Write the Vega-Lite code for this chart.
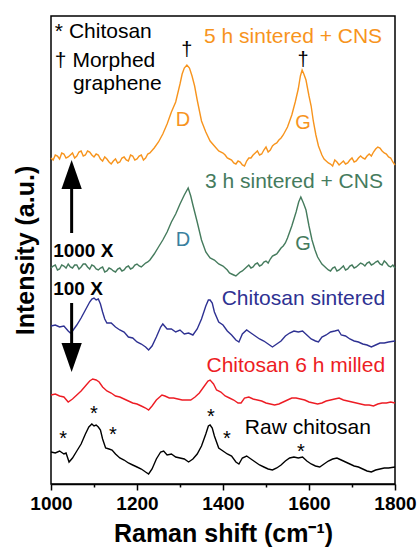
{
"$schema":"https://vega.github.io/schema/vega-lite/v6.json",
"width":344,"height":468,
"autosize":{"type":"none"},
"padding":{"left":51,"top":16,"right":22,"bottom":65},
"config":{"font":"Liberation Sans","view":{"stroke":"#000","strokeWidth":1.5},"axis":{"grid":false}},
"datasets":{
"spectra":[
{"s":"o","x":1000,"y":326},{"s":"o","x":1010,"y":329},{"s":"o","x":1020,"y":325},{"s":"o","x":1030,"y":330},{"s":"o","x":1040,"y":327},{"s":"o","x":1050,"y":331},{"s":"o","x":1060,"y":328},{"s":"o","x":1070,"y":333},{"s":"o","x":1080,"y":329},{"s":"o","x":1090,"y":332},{"s":"o","x":1100,"y":327},{"s":"o","x":1110,"y":329},{"s":"o","x":1120,"y":323},{"s":"o","x":1130,"y":325},{"s":"o","x":1140,"y":320},{"s":"o","x":1150,"y":325},{"s":"o","x":1160,"y":322},{"s":"o","x":1170,"y":327},{"s":"o","x":1180,"y":323},{"s":"o","x":1190,"y":328},{"s":"o","x":1200,"y":325},{"s":"o","x":1210,"y":329},{"s":"o","x":1220,"y":326},{"s":"o","x":1230,"y":331},{"s":"o","x":1240,"y":336},{"s":"o","x":1250,"y":342},{"s":"o","x":1260,"y":350},{"s":"o","x":1270,"y":360},{"s":"o","x":1280,"y":372},{"s":"o","x":1290,"y":382},{"s":"o","x":1300,"y":400},{"s":"o","x":1305,"y":410},{"s":"o","x":1310,"y":416},{"s":"o","x":1316,"y":419},{"s":"o","x":1322,"y":416},{"s":"o","x":1328,"y":408},{"s":"o","x":1334,"y":398},{"s":"o","x":1340,"y":384},{"s":"o","x":1350,"y":363},{"s":"o","x":1360,"y":352},{"s":"o","x":1370,"y":343},{"s":"o","x":1380,"y":338},{"s":"o","x":1390,"y":333},{"s":"o","x":1400,"y":331},{"s":"o","x":1410,"y":326},{"s":"o","x":1420,"y":324},{"s":"o","x":1430,"y":320},{"s":"o","x":1440,"y":322},{"s":"o","x":1450,"y":318},{"s":"o","x":1460,"y":326},{"s":"o","x":1470,"y":329},{"s":"o","x":1480,"y":333},{"s":"o","x":1490,"y":330},{"s":"o","x":1500,"y":337},{"s":"o","x":1510,"y":334},{"s":"o","x":1520,"y":340},{"s":"o","x":1530,"y":344},{"s":"o","x":1540,"y":349},{"s":"o","x":1550,"y":357},{"s":"o","x":1560,"y":369},{"s":"o","x":1568,"y":382},{"s":"o","x":1575,"y":395},{"s":"o","x":1580,"y":408},{"s":"o","x":1584,"y":414},{"s":"o","x":1588,"y":410},{"s":"o","x":1593,"y":404},{"s":"o","x":1600,"y":388},{"s":"o","x":1605,"y":378},{"s":"o","x":1610,"y":363},{"s":"o","x":1616,"y":349},{"s":"o","x":1622,"y":338},{"s":"o","x":1630,"y":329},{"s":"o","x":1640,"y":323},{"s":"o","x":1650,"y":320},{"s":"o","x":1660,"y":324},{"s":"o","x":1670,"y":319},{"s":"o","x":1680,"y":323},{"s":"o","x":1690,"y":321},{"s":"o","x":1700,"y":326},{"s":"o","x":1710,"y":323},{"s":"o","x":1720,"y":328},{"s":"o","x":1730,"y":325},{"s":"o","x":1740,"y":330},{"s":"o","x":1750,"y":332},{"s":"o","x":1760,"y":337},{"s":"o","x":1765,"y":336},{"s":"o","x":1770,"y":333},{"s":"o","x":1780,"y":330},{"s":"o","x":1790,"y":326},{"s":"o","x":1800,"y":319},
{"s":"o","x":1005,"y":324},{"s":"o","x":1015,"y":328},{"s":"o","x":1025,"y":331},{"s":"o","x":1035,"y":326},{"s":"o","x":1045,"y":329},{"s":"o","x":1055,"y":326},{"s":"o","x":1065,"y":332},{"s":"o","x":1075,"y":328},{"s":"o","x":1085,"y":333},{"s":"o","x":1095,"y":329},{"s":"o","x":1105,"y":330},{"s":"o","x":1115,"y":325},{"s":"o","x":1125,"y":327},{"s":"o","x":1135,"y":322},{"s":"o","x":1145,"y":323},{"s":"o","x":1155,"y":321},{"s":"o","x":1165,"y":326},{"s":"o","x":1175,"y":324},{"s":"o","x":1185,"y":329},{"s":"o","x":1195,"y":324},{"s":"o","x":1205,"y":328},{"s":"o","x":1215,"y":324},{"s":"o","x":1225,"y":330},
{"s":"o","x":1405,"y":329},{"s":"o","x":1415,"y":325},{"s":"o","x":1425,"y":321},{"s":"o","x":1435,"y":323},{"s":"o","x":1445,"y":319},{"s":"o","x":1455,"y":323},{"s":"o","x":1465,"y":326},{"s":"o","x":1475,"y":331},{"s":"o","x":1485,"y":329},{"s":"o","x":1495,"y":334},{"s":"o","x":1505,"y":332},{"s":"o","x":1515,"y":338},{"s":"o","x":1525,"y":341},{"s":"o","x":1535,"y":346},
{"s":"o","x":1635,"y":325},{"s":"o","x":1645,"y":321},{"s":"o","x":1655,"y":318},{"s":"o","x":1665,"y":322},{"s":"o","x":1675,"y":321},{"s":"o","x":1685,"y":320},{"s":"o","x":1695,"y":324},{"s":"o","x":1705,"y":322},{"s":"o","x":1715,"y":326},{"s":"o","x":1725,"y":326},{"s":"o","x":1735,"y":328},{"s":"o","x":1745,"y":328},{"s":"o","x":1755,"y":335},{"s":"o","x":1775,"y":331},{"s":"o","x":1785,"y":327},{"s":"o","x":1795,"y":322},
{"s":"g","x":1000,"y":216},{"s":"g","x":1010,"y":219},{"s":"g","x":1020,"y":215},{"s":"g","x":1030,"y":218},{"s":"g","x":1040,"y":220},{"s":"g","x":1050,"y":216},{"s":"g","x":1060,"y":219},{"s":"g","x":1070,"y":217},{"s":"g","x":1080,"y":220},{"s":"g","x":1090,"y":215},{"s":"g","x":1100,"y":218},{"s":"g","x":1110,"y":214},{"s":"g","x":1120,"y":217},{"s":"g","x":1130,"y":213},{"s":"g","x":1140,"y":215},{"s":"g","x":1150,"y":212},{"s":"g","x":1160,"y":216},{"s":"g","x":1170,"y":214},{"s":"g","x":1180,"y":218},{"s":"g","x":1190,"y":216},{"s":"g","x":1200,"y":220},{"s":"g","x":1210,"y":217},{"s":"g","x":1220,"y":221},{"s":"g","x":1230,"y":224},{"s":"g","x":1240,"y":230},{"s":"g","x":1250,"y":237},{"s":"g","x":1260,"y":244},{"s":"g","x":1270,"y":252},{"s":"g","x":1280,"y":262},{"s":"g","x":1290,"y":270},{"s":"g","x":1300,"y":280},{"s":"g","x":1310,"y":289},{"s":"g","x":1319,"y":296},{"s":"g","x":1325,"y":288},{"s":"g","x":1330,"y":279},{"s":"g","x":1340,"y":262},{"s":"g","x":1350,"y":244},{"s":"g","x":1360,"y":232},{"s":"g","x":1370,"y":226},{"s":"g","x":1380,"y":224},{"s":"g","x":1390,"y":220},{"s":"g","x":1400,"y":218},{"s":"g","x":1410,"y":214},{"s":"g","x":1420,"y":210},{"s":"g","x":1430,"y":208},{"s":"g","x":1440,"y":212},{"s":"g","x":1450,"y":215},{"s":"g","x":1460,"y":219},{"s":"g","x":1470,"y":217},{"s":"g","x":1480,"y":221},{"s":"g","x":1490,"y":219},{"s":"g","x":1500,"y":223},{"s":"g","x":1510,"y":225},{"s":"g","x":1520,"y":229},{"s":"g","x":1530,"y":233},{"s":"g","x":1540,"y":238},{"s":"g","x":1550,"y":246},{"s":"g","x":1560,"y":258},{"s":"g","x":1570,"y":272},{"s":"g","x":1576,"y":282},{"s":"g","x":1581,"y":287},{"s":"g","x":1587,"y":281},{"s":"g","x":1593,"y":274},{"s":"g","x":1600,"y":258},{"s":"g","x":1607,"y":244},{"s":"g","x":1614,"y":234},{"s":"g","x":1620,"y":227},{"s":"g","x":1630,"y":220},{"s":"g","x":1640,"y":216},{"s":"g","x":1650,"y":213},{"s":"g","x":1660,"y":217},{"s":"g","x":1670,"y":214},{"s":"g","x":1680,"y":218},{"s":"g","x":1690,"y":215},{"s":"g","x":1700,"y":219},{"s":"g","x":1710,"y":217},{"s":"g","x":1720,"y":221},{"s":"g","x":1730,"y":218},{"s":"g","x":1740,"y":222},{"s":"g","x":1750,"y":220},{"s":"g","x":1760,"y":223},{"s":"g","x":1770,"y":219},{"s":"g","x":1780,"y":221},{"s":"g","x":1790,"y":217},{"s":"g","x":1800,"y":216},
{"s":"g","x":1005,"y":218},{"s":"g","x":1015,"y":214},{"s":"g","x":1025,"y":219},{"s":"g","x":1035,"y":216},{"s":"g","x":1045,"y":217},{"s":"g","x":1055,"y":219},{"s":"g","x":1065,"y":215},{"s":"g","x":1075,"y":220},{"s":"g","x":1085,"y":217},{"s":"g","x":1095,"y":219},{"s":"g","x":1105,"y":215},{"s":"g","x":1115,"y":216},{"s":"g","x":1125,"y":212},{"s":"g","x":1135,"y":216},{"s":"g","x":1145,"y":213},{"s":"g","x":1155,"y":215},{"s":"g","x":1165,"y":213},{"s":"g","x":1175,"y":217},{"s":"g","x":1185,"y":215},{"s":"g","x":1195,"y":219},{"s":"g","x":1205,"y":218},{"s":"g","x":1215,"y":219},{"s":"g","x":1225,"y":222},
{"s":"g","x":1405,"y":216},{"s":"g","x":1415,"y":211},{"s":"g","x":1425,"y":209},{"s":"g","x":1435,"y":210},{"s":"g","x":1445,"y":213},{"s":"g","x":1455,"y":217},{"s":"g","x":1465,"y":216},{"s":"g","x":1475,"y":220},{"s":"g","x":1485,"y":218},{"s":"g","x":1495,"y":222},{"s":"g","x":1505,"y":221},{"s":"g","x":1515,"y":228},{"s":"g","x":1525,"y":230},{"s":"g","x":1535,"y":236},{"s":"g","x":1545,"y":241},
{"s":"g","x":1635,"y":218},{"s":"g","x":1645,"y":214},{"s":"g","x":1655,"y":216},{"s":"g","x":1665,"y":213},{"s":"g","x":1675,"y":216},{"s":"g","x":1685,"y":214},{"s":"g","x":1695,"y":218},{"s":"g","x":1705,"y":216},{"s":"g","x":1715,"y":219},{"s":"g","x":1725,"y":220},{"s":"g","x":1735,"y":221},{"s":"g","x":1745,"y":219},{"s":"g","x":1755,"y":222},{"s":"g","x":1765,"y":220},{"s":"g","x":1775,"y":223},{"s":"g","x":1785,"y":218},{"s":"g","x":1795,"y":219},
{"s":"b","x":1000,"y":158},{"s":"b","x":1010,"y":159},{"s":"b","x":1020,"y":157},{"s":"b","x":1030,"y":158},{"s":"b","x":1040,"y":153},{"s":"b","x":1045,"y":151},{"s":"b","x":1050,"y":153},{"s":"b","x":1060,"y":159},{"s":"b","x":1070,"y":166},{"s":"b","x":1080,"y":174},{"s":"b","x":1090,"y":182},{"s":"b","x":1095,"y":185},{"s":"b","x":1100,"y":186},{"s":"b","x":1105,"y":184},{"s":"b","x":1110,"y":185},{"s":"b","x":1115,"y":180},{"s":"b","x":1120,"y":172},{"s":"b","x":1125,"y":165},{"s":"b","x":1130,"y":161},{"s":"b","x":1140,"y":161},{"s":"b","x":1150,"y":157},{"s":"b","x":1160,"y":154},{"s":"b","x":1170,"y":152},{"s":"b","x":1180,"y":147},{"s":"b","x":1190,"y":146},{"s":"b","x":1200,"y":142},{"s":"b","x":1210,"y":140},{"s":"b","x":1220,"y":137},{"s":"b","x":1227,"y":134},{"s":"b","x":1235,"y":138},{"s":"b","x":1245,"y":147},{"s":"b","x":1255,"y":157},{"s":"b","x":1260,"y":160},{"s":"b","x":1270,"y":155},{"s":"b","x":1280,"y":155},{"s":"b","x":1290,"y":152},{"s":"b","x":1300,"y":154},{"s":"b","x":1310,"y":150},{"s":"b","x":1320,"y":151},{"s":"b","x":1330,"y":149},{"s":"b","x":1340,"y":155},{"s":"b","x":1350,"y":165},{"s":"b","x":1360,"y":178},{"s":"b","x":1366,"y":184},{"s":"b","x":1370,"y":184},{"s":"b","x":1375,"y":181},{"s":"b","x":1380,"y":172},{"s":"b","x":1390,"y":162},{"s":"b","x":1400,"y":159},{"s":"b","x":1410,"y":153},{"s":"b","x":1420,"y":149},{"s":"b","x":1430,"y":144},{"s":"b","x":1437,"y":142},{"s":"b","x":1445,"y":150},{"s":"b","x":1455,"y":154},{"s":"b","x":1465,"y":151},{"s":"b","x":1475,"y":148},{"s":"b","x":1485,"y":145},{"s":"b","x":1495,"y":143},{"s":"b","x":1505,"y":140},{"s":"b","x":1515,"y":137},{"s":"b","x":1525,"y":140},{"s":"b","x":1535,"y":143},{"s":"b","x":1545,"y":148},{"s":"b","x":1555,"y":151},{"s":"b","x":1565,"y":153},{"s":"b","x":1575,"y":152},{"s":"b","x":1585,"y":153},{"s":"b","x":1595,"y":149},{"s":"b","x":1605,"y":145},{"s":"b","x":1615,"y":143},{"s":"b","x":1622,"y":142},{"s":"b","x":1630,"y":147},{"s":"b","x":1640,"y":149},{"s":"b","x":1650,"y":152},{"s":"b","x":1660,"y":153},{"s":"b","x":1668,"y":154},{"s":"b","x":1675,"y":149},{"s":"b","x":1685,"y":148},{"s":"b","x":1695,"y":145},{"s":"b","x":1705,"y":143},{"s":"b","x":1715,"y":142},{"s":"b","x":1725,"y":140},{"s":"b","x":1735,"y":139},{"s":"b","x":1745,"y":137},{"s":"b","x":1755,"y":139},{"s":"b","x":1765,"y":141},{"s":"b","x":1775,"y":141},{"s":"b","x":1785,"y":142},{"s":"b","x":1800,"y":143},
{"s":"r","x":1000,"y":89},{"s":"r","x":1010,"y":90},{"s":"r","x":1020,"y":88},{"s":"r","x":1030,"y":87},{"s":"r","x":1040,"y":82},{"s":"r","x":1050,"y":85},{"s":"r","x":1060,"y":89},{"s":"r","x":1070,"y":93},{"s":"r","x":1080,"y":98},{"s":"r","x":1090,"y":103},{"s":"r","x":1097,"y":105},{"s":"r","x":1105,"y":104},{"s":"r","x":1112,"y":102},{"s":"r","x":1120,"y":97},{"s":"r","x":1130,"y":93},{"s":"r","x":1140,"y":91},{"s":"r","x":1150,"y":88},{"s":"r","x":1160,"y":87},{"s":"r","x":1170,"y":85},{"s":"r","x":1180,"y":83},{"s":"r","x":1190,"y":81},{"s":"r","x":1200,"y":80},{"s":"r","x":1210,"y":78},{"s":"r","x":1220,"y":76},{"s":"r","x":1227,"y":74},{"s":"r","x":1235,"y":78},{"s":"r","x":1245,"y":84},{"s":"r","x":1258,"y":89},{"s":"r","x":1265,"y":88},{"s":"r","x":1275,"y":86},{"s":"r","x":1285,"y":86},{"s":"r","x":1295,"y":85},{"s":"r","x":1305,"y":84},{"s":"r","x":1315,"y":84},{"s":"r","x":1325,"y":84},{"s":"r","x":1335,"y":87},{"s":"r","x":1345,"y":91},{"s":"r","x":1355,"y":97},{"s":"r","x":1365,"y":103},{"s":"r","x":1370,"y":104},{"s":"r","x":1378,"y":100},{"s":"r","x":1385,"y":94},{"s":"r","x":1395,"y":92},{"s":"r","x":1405,"y":88},{"s":"r","x":1415,"y":86},{"s":"r","x":1425,"y":84},{"s":"r","x":1435,"y":81},{"s":"r","x":1442,"y":81},{"s":"r","x":1450,"y":86},{"s":"r","x":1460,"y":87},{"s":"r","x":1470,"y":85},{"s":"r","x":1480,"y":84},{"s":"r","x":1490,"y":83},{"s":"r","x":1500,"y":81},{"s":"r","x":1510,"y":80},{"s":"r","x":1520,"y":79},{"s":"r","x":1530,"y":80},{"s":"r","x":1540,"y":82},{"s":"r","x":1550,"y":84},{"s":"r","x":1560,"y":86},{"s":"r","x":1570,"y":86},{"s":"r","x":1580,"y":85},{"s":"r","x":1590,"y":84},{"s":"r","x":1600,"y":82},{"s":"r","x":1610,"y":81},{"s":"r","x":1620,"y":80},{"s":"r","x":1630,"y":81},{"s":"r","x":1640,"y":83},{"s":"r","x":1650,"y":84},{"s":"r","x":1660,"y":85},{"s":"r","x":1670,"y":86},{"s":"r","x":1680,"y":84},{"s":"r","x":1690,"y":83},{"s":"r","x":1700,"y":82},{"s":"r","x":1710,"y":81},{"s":"r","x":1720,"y":80},{"s":"r","x":1730,"y":79},{"s":"r","x":1740,"y":79},{"s":"r","x":1750,"y":78},{"s":"r","x":1760,"y":80},{"s":"r","x":1770,"y":81},{"s":"r","x":1780,"y":81},{"s":"r","x":1790,"y":82},{"s":"r","x":1800,"y":81},
{"s":"k","x":1000,"y":32},{"s":"k","x":1010,"y":31},{"s":"k","x":1020,"y":33},{"s":"k","x":1030,"y":30},{"s":"k","x":1035,"y":31},{"s":"k","x":1042,"y":22},{"s":"k","x":1050,"y":26},{"s":"k","x":1060,"y":33},{"s":"k","x":1070,"y":40},{"s":"k","x":1080,"y":50},{"s":"k","x":1088,"y":57},{"s":"k","x":1095,"y":60},{"s":"k","x":1100,"y":58},{"s":"k","x":1105,"y":59},{"s":"k","x":1110,"y":57},{"s":"k","x":1115,"y":54},{"s":"k","x":1120,"y":45},{"s":"k","x":1127,"y":36},{"s":"k","x":1135,"y":35},{"s":"k","x":1142,"y":34},{"s":"k","x":1150,"y":30},{"s":"k","x":1160,"y":26},{"s":"k","x":1170,"y":24},{"s":"k","x":1180,"y":21},{"s":"k","x":1190,"y":19},{"s":"k","x":1200,"y":17},{"s":"k","x":1210,"y":15},{"s":"k","x":1220,"y":12},{"s":"k","x":1227,"y":10},{"s":"k","x":1235,"y":15},{"s":"k","x":1245,"y":25},{"s":"k","x":1255,"y":32},{"s":"k","x":1262,"y":33},{"s":"k","x":1270,"y":29},{"s":"k","x":1280,"y":30},{"s":"k","x":1290,"y":27},{"s":"k","x":1300,"y":26},{"s":"k","x":1310,"y":25},{"s":"k","x":1320,"y":22},{"s":"k","x":1330,"y":25},{"s":"k","x":1340,"y":30},{"s":"k","x":1350,"y":38},{"s":"k","x":1360,"y":50},{"s":"k","x":1366,"y":58},{"s":"k","x":1370,"y":59},{"s":"k","x":1375,"y":56},{"s":"k","x":1380,"y":48},{"s":"k","x":1390,"y":36},{"s":"k","x":1400,"y":33},{"s":"k","x":1410,"y":30},{"s":"k","x":1420,"y":28},{"s":"k","x":1430,"y":22},{"s":"k","x":1437,"y":20},{"s":"k","x":1445,"y":26},{"s":"k","x":1455,"y":28},{"s":"k","x":1465,"y":25},{"s":"k","x":1475,"y":22},{"s":"k","x":1485,"y":19},{"s":"k","x":1495,"y":17},{"s":"k","x":1505,"y":15},{"s":"k","x":1515,"y":14},{"s":"k","x":1525,"y":16},{"s":"k","x":1535,"y":19},{"s":"k","x":1545,"y":23},{"s":"k","x":1555,"y":26},{"s":"k","x":1565,"y":27},{"s":"k","x":1575,"y":26},{"s":"k","x":1585,"y":27},{"s":"k","x":1595,"y":23},{"s":"k","x":1605,"y":20},{"s":"k","x":1615,"y":18},{"s":"k","x":1625,"y":17},{"s":"k","x":1635,"y":20},{"s":"k","x":1645,"y":23},{"s":"k","x":1655,"y":25},{"s":"k","x":1665,"y":26},{"s":"k","x":1675,"y":24},{"s":"k","x":1685,"y":22},{"s":"k","x":1695,"y":20},{"s":"k","x":1705,"y":18},{"s":"k","x":1715,"y":17},{"s":"k","x":1725,"y":15},{"s":"k","x":1735,"y":13},{"s":"k","x":1745,"y":12},{"s":"k","x":1755,"y":14},{"s":"k","x":1765,"y":15},{"s":"k","x":1775,"y":16},{"s":"k","x":1785,"y":16},{"s":"k","x":1800,"y":17}
],
"notesLeft":[
{"t":"* Chitosan","x":1009,"y":446,"s":"k"},
{"t":"† Morphed","x":1009,"y":417,"s":"k"},
{"t":"graphene","x":1051,"y":394,"s":"k"}
],
"notesRight":[
{"t":"5 h sintered + CNS","x":1770,"y":441,"s":"o"},
{"t":"3 h sintered + CNS","x":1772,"y":296,"s":"g"},
{"t":"Chitosan sintered","x":1777,"y":179,"s":"b"},
{"t":"Chitosan 6 h milled","x":1777,"y":112,"s":"r"},
{"t":"Raw chitosan","x":1744,"y":50,"s":"k"}
],
"notesCenter":[
{"t":"†","x":1316,"y":428,"s":"k"},
{"t":"†","x":1586,"y":418,"s":"k"},
{"t":"D","x":1307,"y":358,"s":"o"},
{"t":"G","x":1586,"y":355,"s":"o"},
{"t":"D","x":1307,"y":238,"s":"d"},
{"t":"G","x":1586,"y":234,"s":"g"},
{"t":"*","x":1028,"y":39.5,"s":"k"},
{"t":"*","x":1100,"y":64.5,"s":"k"},
{"t":"*","x":1144,"y":43.5,"s":"k"},
{"t":"*","x":1372,"y":61.5,"s":"k"},
{"t":"*","x":1409,"y":39.5,"s":"k"},
{"t":"*","x":1581,"y":26.5,"s":"k"}
],
"scales":[
{"t":"1000 X","x":1005,"y":227,"s":"k"},
{"t":"100 X","x":1005,"y":189,"s":"k"}
],
"shafts":[{"x":1048,"y":295,"y2":251},{"x":1048,"y":181,"y2":141}],
"headUp":[{"x":1048,"y":309.5}],
"headDown":[{"x":1048,"y":126.5}]
},
"encoding":{
"x":{"field":"x","type":"quantitative","scale":{"domain":[1000,1800],"nice":false,"zero":false},
 "axis":{"title":"Raman shift (cm⁻¹)","values":[1000,1100,1200,1300,1400,1500,1600,1700,1800],"format":"d","labelExpr":"datum.value % 200 == 0 ? datum.label : ''","labelFlush":false,"labelOverlap":false,"labelFont":"Liberation Sans","labelFontWeight":"bold","labelFontSize":19,"labelColor":"#000","labelPadding":4,"tickColor":"#000","tickWidth":1.5,"tickSize":{"condition":{"test":"datum.value % 200 != 0","value":3},"value":6},"domainColor":"#000","domainWidth":1.5,"titleFont":"Liberation Sans","titleFontWeight":"bold","titleFontSize":25,"titleColor":"#000","titlePadding":8}},
"y":{"field":"y","type":"quantitative","scale":{"domain":[0,468],"nice":false,"zero":false},
 "axis":{"title":"Intensity (a.u.)","labels":false,"ticks":false,"domain":false,"titleFont":"Liberation Sans","titleFontWeight":"bold","titleFontSize":25,"titleColor":"#000","titlePadding":13}}
},
"layer":[
{"data":{"name":"spectra"},"mark":{"type":"line","strokeWidth":1.4},
 "encoding":{"color":{"field":"s","type":"nominal","scale":{"domain":["o","g","b","r","k","d"],"range":["#F7941D","#457B5D","#2E3192","#ED1C24","#000000","#3A7F9E"]},"legend":null}}},
{"data":{"name":"shafts"},"mark":{"type":"rule","strokeWidth":3,"color":"#000"},"encoding":{"y2":{"field":"y2"}}},
{"data":{"name":"headUp"},"mark":{"type":"point","shape":"M0,-1L-0.7,1L0.7,1Z","filled":true,"size":841,"color":"#000","opacity":1,"strokeWidth":0},"encoding":{}},
{"data":{"name":"headDown"},"mark":{"type":"point","shape":"M0,1L-0.7,-1L0.7,-1Z","filled":true,"size":841,"color":"#000","opacity":1,"strokeWidth":0},"encoding":{}},
{"data":{"name":"notesLeft"},"mark":{"type":"text","align":"left","baseline":"alphabetic","fontSize":21},"encoding":{"text":{"field":"t"},"color":{"field":"s","type":"nominal","legend":null}}},
{"data":{"name":"notesRight"},"mark":{"type":"text","align":"right","baseline":"alphabetic","fontSize":21},"encoding":{"text":{"field":"t"},"color":{"field":"s","type":"nominal","legend":null}}},
{"data":{"name":"notesCenter"},"mark":{"type":"text","align":"center","baseline":"alphabetic","fontSize":20},"encoding":{"text":{"field":"t"},"color":{"field":"s","type":"nominal","legend":null}}},
{"data":{"name":"scales"},"mark":{"type":"text","align":"left","baseline":"alphabetic","fontSize":19,"fontWeight":"bold"},"encoding":{"text":{"field":"t"},"color":{"field":"s","type":"nominal","legend":null}}}
]
}
